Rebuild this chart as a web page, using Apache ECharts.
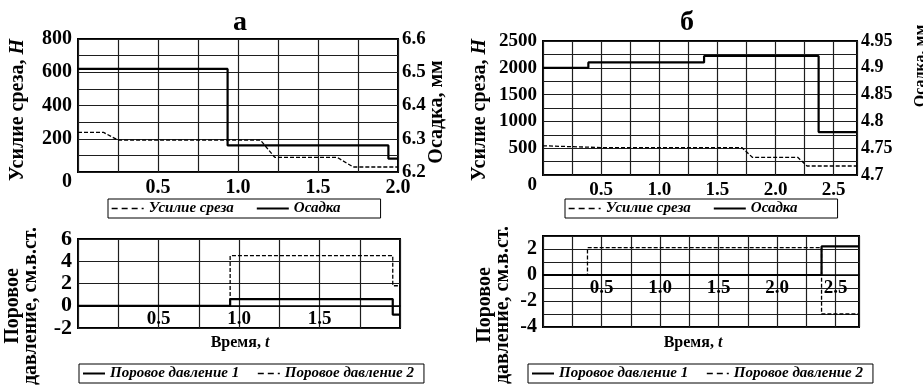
<!DOCTYPE html>
<html>
<head>
<meta charset="utf-8">
<script src="https://cdn.jsdelivr.net/npm/echarts@6/dist/echarts.min.js"></script>
<style>
  html, body { margin: 0; padding: 0; background: #fff; }
  #chart { width: 923px; height: 385px; }
</style>
</head>
<body>
<div id="chart"></div>
<script>
// ---- Panel "а": shear force (N) and settlement (mm) vs time ----
const shearA_t = [0, 0.16, 0.25, 1.14, 1.23, 1.62, 1.72, 2.0];
const shearA_v = [238, 238, 192, 192, 88, 88, 30, 30];
const settleA_t = [0, 0.935, 0.935, 1.94, 1.94, 2.0];
const settleA_v = [6.51, 6.51, 6.28, 6.28, 6.24, 6.24];

// ---- Panel "а": pore pressure (cm of water) vs time ----
const poreA1_t = [0, 0.945, 0.945, 1.955, 1.955, 2.0];
const poreA1_v = [0, 0, 0.6, 0.6, -0.8, -0.8];
const poreA2_t = [0, 0.945, 0.945, 1.955, 1.955, 2.0];
const poreA2_v = [0, 0, 4.5, 4.5, 1.8, 1.8];

// ---- Panel "б": shear force (N) and settlement (mm) vs time ----
const shearB_t = [0, 0.3, 0.5, 1.71, 1.80, 2.19, 2.27, 2.7];
const shearB_v = [545, 525, 512, 512, 330, 330, 168, 168];
const settleB_t = [0, 0.39, 0.39, 1.385, 1.385, 2.37, 2.37, 2.7];
const settleB_v = [4.9, 4.9, 4.91, 4.91, 4.922, 4.922, 4.78, 4.78];

// ---- Panel "б": pore pressure (cm of water) vs time ----
const poreB1_t = [0, 2.38, 2.38, 2.7];
const poreB1_v = [0, 0, 2.2, 2.2];
const poreB2_t = [0, 0.38, 0.38, 2.38, 2.38, 2.7];
const poreB2_v = [0, 0, 2.1, 2.1, -3.0, -3.0];

// ---- Tick labels ----
const xTicksA = [0.5, 1.0, 1.5, 2.0];
const xTicksPoreA = [0.5, 1.0, 1.5];
const xTicksB = [0.5, 1.0, 1.5, 2.0, 2.5];
const yTicksShearA = [0, 200, 400, 600, 800];
const yTicksSettleA = [6.2, 6.3, 6.4, 6.5, 6.6];
const yTicksPoreA = [-2, 0, 2, 4, 6];
const yTicksShearB = [0, 500, 1000, 1500, 2000, 2500];
const yTicksSettleB = [4.7, 4.75, 4.8, 4.85, 4.9, 4.95];
const yTicksPoreB = [-4, -2, 0, 2];

const FONT = "'Liberation Serif', 'DejaVu Serif', serif";
const GRID_LINE = { show: true, lineStyle: { color: '#1e1e1e', width: 1.2 } };

const zip = (t, v) => t.map((x, i) => [x, v[i]]);
const has = (list, v) => list.some(x => Math.abs(x - v) < 1e-6);
const num = v => String(Math.round(v * 1000) / 1000);

// Time axis; the pore-pressure panels carry their labels on the zero line,
// so those axes are shifted up into the plot by `shift` pixels.
function xAxis(gridIndex, max, ticks, shift, size) {
  return {
    type: 'value', gridIndex, min: 0, max, interval: 0.25,
    offset: shift ? -shift : 0,
    splitLine: GRID_LINE,
    axisTick: { show: false },
    axisLine: { show: !!shift, onZero: false, lineStyle: { color: '#000', width: 1.5 } },
    axisLabel: {
      margin: shift ? 4 : 6,
      color: '#000', fontFamily: FONT, fontWeight: 'bold', fontSize: size,
      formatter: v => has(ticks, v) ? v.toFixed(1) : ''
    }
  };
}

function yAxis(gridIndex, pos, min, max, interval, ticks, size, split, lowerZero) {
  return {
    type: 'value', gridIndex, position: pos, min, max, interval,
    splitLine: split ? GRID_LINE : { show: false },
    axisTick: { show: false },
    axisLine: { show: false, onZero: false },
    axisLabel: {
      margin: pos === 'left' ? 6 : 4,
      color: '#000', fontFamily: FONT, fontWeight: 'bold', fontSize: size,
      formatter: v => {
        if (!has(ticks, v)) return '';
        if (lowerZero && Math.abs(v) < 1e-9) return '{z|0}';
        return num(v);
      },
      rich: { z: { padding: [20, 0, 0, 0], fontFamily: FONT, fontWeight: 'bold', fontSize: size, color: '#000' } }
    }
  };
}

function line(name, x, y, data, dashed) {
  return {
    name, type: 'line', xAxisIndex: x, yAxisIndex: y, data,
    symbol: 'none', silent: true, z: dashed ? 4 : 3,
    itemStyle: { color: '#000' },
    lineStyle: dashed ? { color: '#000', width: 1.3, type: [4, 2] } : { color: '#000', width: 2.2 }
  };
}

function legend(left, top, names, itemWidth, itemGap, padRight) {
  return {
    left, top, orient: 'horizontal', selectedMode: false,
    data: names.map(n => (typeof n === 'string' ? { name: n } : n)),
    borderColor: '#000', borderWidth: 1, borderRadius: 0,
    padding: [2, padRight, 2, 3],
    itemWidth, itemHeight: 10, itemGap,
    itemStyle: { opacity: 0 },
    textStyle: { fontFamily: FONT, fontWeight: 'bold', fontStyle: 'italic', fontSize: 15, color: '#000' }
  };
}

const chart = echarts.init(document.getElementById('chart'), null, { renderer: 'canvas' });

const boldText = (text, x, y, size, rot, extra) => ({
  type: 'text', x, y, rotation: rot || 0, silent: true,
  style: Object.assign({
    text, fill: '#000', font: `bold ${size}px ${FONT}`,
    fontFamily: FONT, fontWeight: 'bold', fontSize: size,
    textAlign: 'center', textVerticalAlign: 'middle'
  }, extra || {})
});

const italicRich = size => ({ i: { fontFamily: FONT, fontWeight: 'bold', fontStyle: 'italic', fontSize: size, fill: '#000', color: '#000' } });

const dashedLegend = name => ({ name, lineStyle: { type: [6, 4], width: 1.3 } });

chart.setOption({
  animation: false,
  backgroundColor: '#fff',
  grid: [
    { left: 78, top: 39, width: 320, height: 133, show: true, borderColor: '#000', borderWidth: 2, backgroundColor: 'transparent' },
    { left: 78, top: 239, width: 322, height: 89, show: true, borderColor: '#000', borderWidth: 2, backgroundColor: 'transparent' },
    { left: 543, top: 41, width: 314, height: 134, show: true, borderColor: '#000', borderWidth: 2, backgroundColor: 'transparent' },
    { left: 543, top: 236, width: 316, height: 91, show: true, borderColor: '#000', borderWidth: 2, backgroundColor: 'transparent' }
  ],
  xAxis: [
    xAxis(0, 2.0, xTicksA, 0, 20),
    xAxis(1, 2.0, xTicksPoreA, 89 * 2 / 8, 19),
    xAxis(2, 2.7, xTicksB, 0, 19),
    xAxis(3, 2.7, xTicksB, 91 * 4 / 7, 19)
  ],
  yAxis: [
    yAxis(0, 'left', 0, 800, 100, yTicksShearA, 20, true, true),
    yAxis(0, 'right', 6.2, 6.6, 0.05, yTicksSettleA, 19, false, false),
    yAxis(1, 'left', -2, 6, 2, yTicksPoreA, 22, true, false),
    yAxis(2, 'left', 0, 2500, 250, yTicksShearB, 19, true, true),
    yAxis(2, 'right', 4.7, 4.95, 0.025, yTicksSettleB, 18, false, false),
    yAxis(3, 'left', -4, 3, 1, yTicksPoreB, 20, true, false)
  ],
  series: [
    line('Усилие среза', 0, 0, zip(shearA_t, shearA_v), true),
    line('Осадка', 0, 1, zip(settleA_t, settleA_v), false),
    line('Поровое давление 1', 1, 2, zip(poreA1_t, poreA1_v), false),
    line('Поровое давление 2', 1, 2, zip(poreA2_t, poreA2_v), true),
    line('Усилие среза', 2, 3, zip(shearB_t, shearB_v), true),
    line('Осадка', 2, 4, zip(settleB_t, settleB_v), false),
    line('Поровое давление 1', 3, 5, zip(poreB1_t, poreB1_v), false),
    line('Поровое давление 2', 3, 5, zip(poreB2_t, poreB2_v), true)
  ],
  legend: [
    legend(108, 199, [dashedLegend('Усилие среза'), 'Осадка'], 32, 22, 40),
    legend(79, 364, ['Поровое давление 1', dashedLegend('Поровое давление 2')], 22, 18, 10),
    legend(565, 199, [dashedLegend('Усилие среза'), 'Осадка'], 32, 22, 40),
    legend(528, 364, ['Поровое давление 1', dashedLegend('Поровое давление 2')], 22, 18, 10)
  ],
  graphic: [
    boldText('а', 240, 23, 28),
    boldText('б', 687, 23, 28),
    boldText('Усилие среза, {i|Н}', 18, 110, 20, Math.PI / 2, { rich: italicRich(20) }),
    boldText('Усилие среза, {i|Н}', 480, 110, 20, Math.PI / 2, { rich: italicRich(20) }),
    boldText('Осадка, мм', 437, 112, 20, Math.PI / 2),
    boldText('Осадка, мм', 921, 66, 16, Math.PI / 2),
    boldText('Поровое\nдавление, см.в.ст.', 22, 306, 20, Math.PI / 2, { lineHeight: 18 }),
    boldText('Поровое\nдавление, см.в.ст.', 494, 305, 20, Math.PI / 2, { lineHeight: 18 }),
    boldText('Время, {i|t}', 240, 343, 16, 0, { rich: italicRich(16) }),
    boldText('Время, {i|t}', 693, 343, 16, 0, { rich: italicRich(16) })
  ]
});
</script>
</body>
</html>
